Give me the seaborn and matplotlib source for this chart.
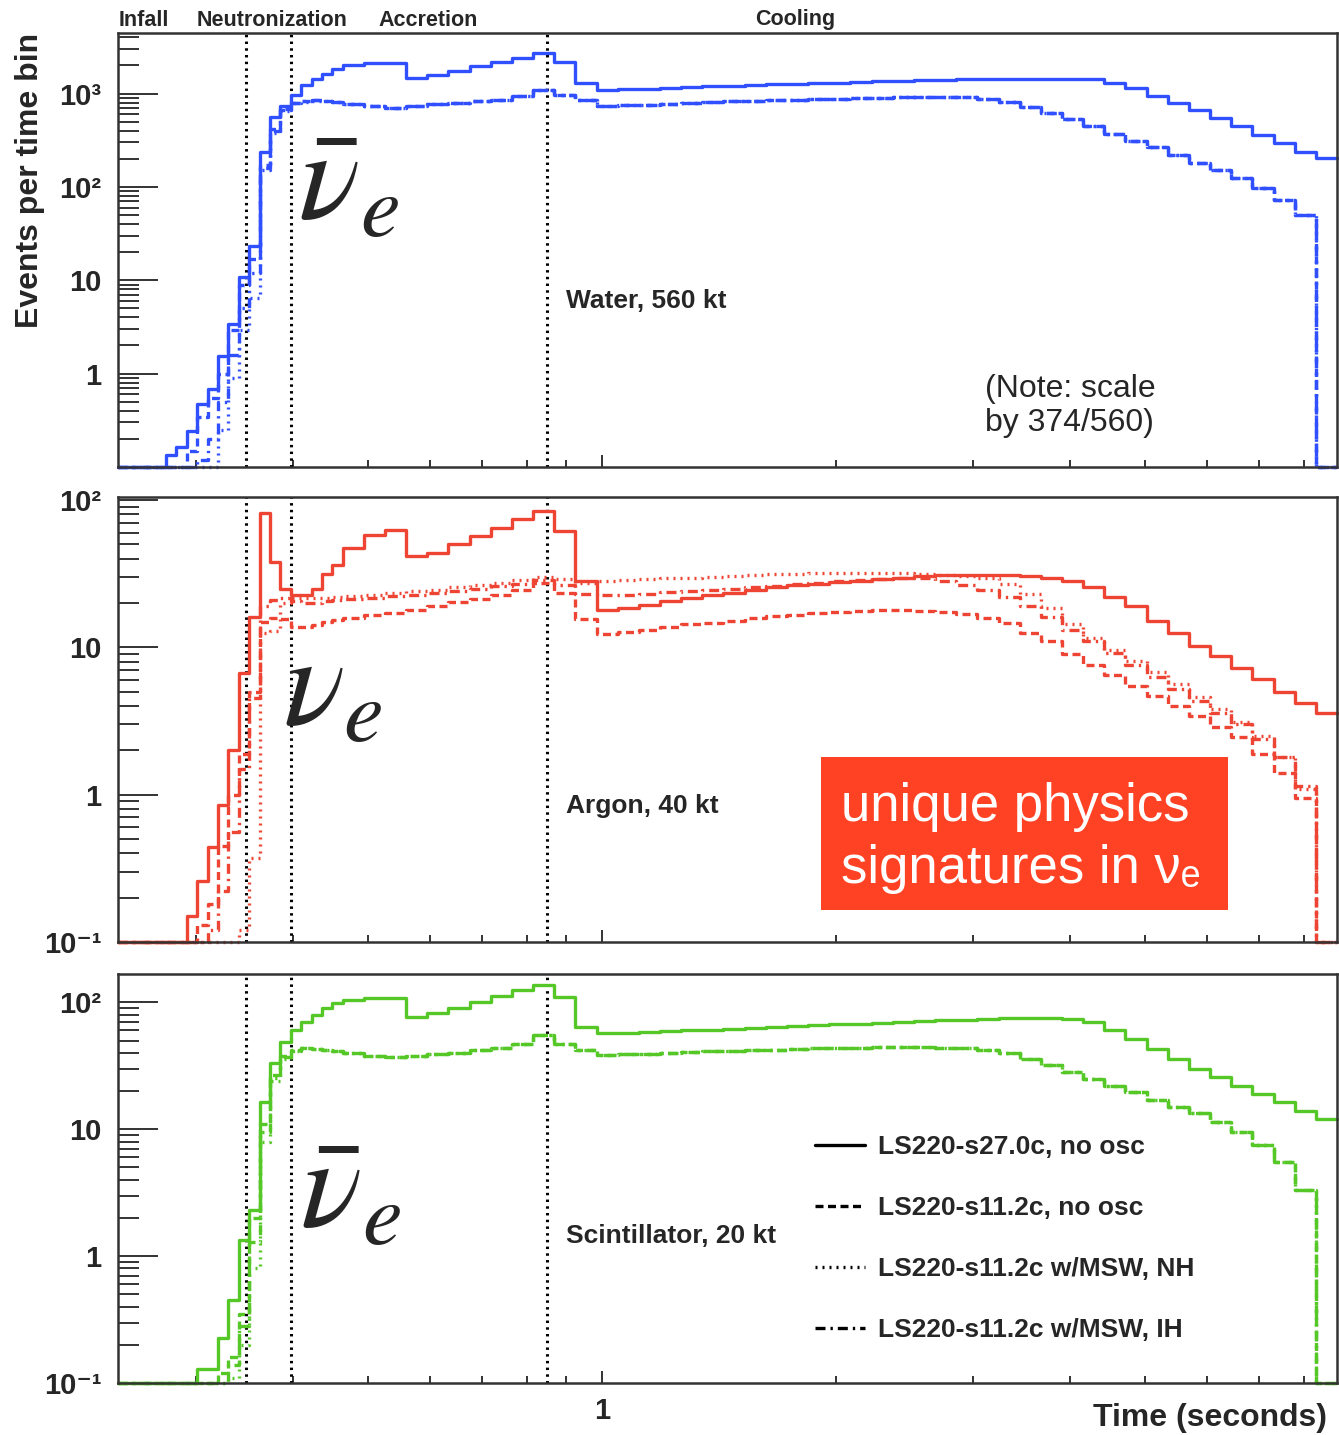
import numpy as np
import pandas as pd
import matplotlib
matplotlib.use("Agg")
import matplotlib.pyplot as plt
from matplotlib.lines import Line2D
from matplotlib.patches import Rectangle
from matplotlib.ticker import FixedLocator, FixedFormatter, LogLocator, NullFormatter
import seaborn as sns

sns.set_style("ticks")
plt.rcParams["font.family"] = ["Liberation Sans", "DejaVu Sans"]
plt.rcParams["font.weight"] = "bold"
# math symbols in a plain (not bold) serif italic
plt.rcParams["mathtext.fontset"] = "custom"
plt.rcParams["mathtext.rm"] = "STIXGeneral:weight=normal"
plt.rcParams["mathtext.it"] = "STIXGeneral:italic:weight=normal"
plt.rcParams["mathtext.bf"] = "STIXGeneral:weight=bold"

# time bins (seconds), log binning: fine during the rise, coarser afterwards
t_start = 0.2383
t_fine = np.logspace(np.log10(0.2748), np.log10(0.4638), 18)
t_coarse = np.logspace(np.log10(0.4638), np.log10(8.83), 48)[1:]
edges = np.concatenate([[t_start], t_fine, t_coarse])

phase_edges = [0.3481, 0.3978, 0.8496]
phase_names = ["Infall", "Neutronization", "Accretion", "Cooling"]

models = ["s27", "s11", "nh", "ih"]
model_labels = ["LS220-s27.0c, no osc", "LS220-s11.2c, no osc",
                "LS220-s11.2c w/MSW, NH", "LS220-s11.2c w/MSW, IH"]

# ---- Water, 560 kt (events per bin)
water_s27 = [0, 0.133, 0.163, 0.245, 0.47, 0.68, 1.55, 3.4, 10.7, 23, 239, 564, 740, 962,
             1230, 1445, 1635, 1848, 2008, 2137, 2137, 1480, 1580, 1760, 1960, 2180, 2430,
             2700, 2200, 1300, 1100, 1110, 1130, 1150, 1170, 1190, 1210, 1230, 1250, 1270,
             1290, 1310, 1330, 1350, 1370, 1390, 1400, 1420, 1430, 1440, 1445, 1445, 1440,
             1420, 1300, 1150, 950, 790, 660, 545, 445, 360, 293, 238, 205]
water_s11_rise = [0, 0, 0, 0.15, 0.34, 0.55, 1.0, 2.9, 9, 17, 173, 420, 690, 800, 830, 850, 840, 820]
water_nh_rise = [0, 0, 0, 0, 0, 0.1, 0.25, 0.9, 2.9, 6.5, 150, 380, 650, 790, 820, 840, 840, 820]
water_ih_rise = [0, 0, 0, 0, 0.12, 0.2, 0.5, 1.6, 5, 12, 160, 400, 670, 800, 830, 850, 840, 820]
water_s11_tail = [780, 740, 700, 730, 780, 800, 830, 860, 930, 1080, 970, 850, 740, 750, 760,
                  780, 800, 820, 830, 840, 850, 860, 870, 880, 890, 900, 910, 920, 920, 910,
                  880, 810, 710, 620, 540, 450, 370, 310, 270, 220, 180, 150, 125, 98, 73, 50, 0]

# ---- Argon, 40 kt
argon_s27 = [0, 0, 0, 0.15, 0.26, 0.44, 0.85, 2.0, 6.7, 16, 82, 38, 25, 22.5, 22.5, 25, 31.5,
             36, 47, 58, 63, 42, 44, 50, 57, 65, 74, 84, 62, 28, 18, 18.6, 19.3, 20.5, 21.8,
             22.8, 23.5, 24.5, 25.5, 26.3, 27, 27.6, 28.3, 29, 29.8, 30.5, 30.8, 31, 31, 30.8,
             30.5, 29.7, 28, 25.8, 22, 19, 15.2, 12.5, 10.2, 8.7, 7.2, 6.1, 5, 4.2, 3.6]
argon_s11 = [0, 0, 0, 0, 0.13, 0.18, 0.45, 1.0, 1.9, 5, 14.8, 15.8, 15.5, 13.7, 13.7, 14.2,
             14.8, 15.3, 15.8, 16.5, 17.2, 18, 19, 20.2, 21.3, 22.5, 24.5, 27.5, 23.5, 15.5,
             12.4, 12.8, 13.2, 13.7, 14.3, 14.7, 15.2, 15.7, 16.3, 16.7, 17.1, 17.4, 17.7,
             17.8, 17.8, 17.6, 17.3, 16.9, 15.9, 14.6, 12.5, 11.1, 9.0, 7.6, 6.5, 5.5, 4.7,
             4.0, 3.4, 2.9, 2.45, 1.9, 1.4, 0.95, 0]
argon_nh = [0, 0, 0, 0, 0, 0, 0, 0, 0.12, 0.37, 12.6, 13, 20, 21.5, 21.5, 21.5, 21.8, 22, 22.3,
            22.8, 23.5, 24, 24.5, 25.5, 26.5, 27.5, 28.5, 30, 29, 27.5, 28, 28.5, 29, 29.5,
            29.8, 30.2, 30.5, 31, 31.3, 31.6, 31.8, 32, 32, 32, 31.8, 31.5, 31, 30.5, 29.5,
            27, 23, 18.5, 14.5, 11.5, 9.6, 8.1, 6.8, 5.6, 4.6, 3.8, 3.1, 2.5, 1.8, 1.1, 0]
argon_ih = [0, 0, 0, 0, 0, 0.12, 0.22, 0.56, 1.5, 4.5, 19, 21, 21.5, 20.5, 20, 20, 20.5, 21,
            21.3, 21.8, 22.3, 22.8, 23.3, 24, 25, 26, 27, 28.5, 26.5, 23, 22.5, 22.8, 23.2,
            23.6, 24, 24.5, 25, 25.6, 26.2, 26.8, 27.4, 28, 28.6, 29.2, 29.8, 29.5, 28, 26.5,
            24.5, 22, 19, 16, 13.2, 11, 9.2, 7.6, 6.3, 5.2, 4.3, 3.6, 3.0, 2.4, 1.8, 1.15, 0]

# ---- Scintillator, 20 kt
scint_s27 = [0, 0, 0, 0, 0.13, 0.13, 0.226, 0.45, 1.34, 2.3, 16.5, 33, 49, 60.5, 70, 79, 90,
             98, 104, 109, 109, 76, 82, 91, 101, 112, 124, 137, 110, 64, 57, 57.5, 58, 59, 60,
             61, 62, 63, 64, 65, 66, 67, 68, 69, 70, 71, 72, 73, 74, 75, 75, 75, 74.5, 70, 60,
             51, 43, 36, 30, 26, 22, 19, 16.5, 14, 12]
scint_s11_rise = [0, 0, 0, 0, 0, 0, 0.12, 0.16, 0.35, 2.0, 11, 27, 38, 42, 44, 43, 42, 41]
scint_nh_rise = [0, 0, 0, 0, 0, 0, 0, 0.11, 0.2, 0.8, 8, 24, 36, 41, 44, 43, 42, 41]
scint_ih_rise = [0, 0, 0, 0, 0, 0, 0.1, 0.14, 0.28, 1.3, 9.5, 25.5, 37, 41.5, 44, 43, 42, 41]
scint_s11_tail = [40, 38, 37, 38, 39, 40, 42, 44, 47, 55, 47, 42, 38.5, 39, 39.5, 40, 40.5, 41,
                  41.5, 42, 42.5, 43, 43.5, 44, 44, 44.5, 44.5, 44.5, 44, 43.5, 42, 40, 36, 32,
                  28.5, 25, 22, 19.5, 17, 15, 13.5, 11.5, 9.5, 7.5, 5.5, 3.3, 0]

water = [water_s27, water_s11_rise + water_s11_tail, water_nh_rise + water_s11_tail,
         water_ih_rise + water_s11_tail]
argon = [argon_s27, argon_s11, argon_nh, argon_ih]
scint = [scint_s27, scint_s11_rise + scint_s11_tail, scint_nh_rise + scint_s11_tail,
         scint_ih_rise + scint_s11_tail]

dash_map = {"s27": "", "s11": (2.4, 1.35), "nh": (0.6, 1.5), "ih": (3.0, 1.5, 0.7, 1.5)}
LW = 2.4
spine_col = "#333333"


def draw_panel(ax, series, color, ylim, yticks, yticklabels):
    ax.set_xscale("log")
    ax.set_yscale("log")
    rows = []
    for m, vals in zip(models, series):
        y = np.maximum(np.append(vals, vals[-1]), ylim[0])
        rows.append(pd.DataFrame({"t": edges, "n": y, "model": m}))
    df = pd.concat(rows, ignore_index=True)
    sns.lineplot(data=df, x="t", y="n", style="model", dashes=dash_map, color=color,
                 linewidth=LW, drawstyle="steps-post", estimator=None, sort=False,
                 legend=False, ax=ax, clip_on=False)
    for t in phase_edges:
        ax.axvline(t, color="black", linestyle=(0, (0.8, 1.4)), linewidth=2.2, zorder=1)
    ax.set_xlim(edges[0], edges[-1])
    ax.set_ylim(*ylim)
    ax.set_xlabel("")
    ax.set_ylabel("")
    ax.yaxis.set_major_locator(FixedLocator(yticks))
    ax.yaxis.set_major_formatter(FixedFormatter(yticklabels))
    ax.yaxis.set_minor_locator(LogLocator(base=10, subs=np.arange(2, 10)))
    ax.yaxis.set_minor_formatter(NullFormatter())
    ax.xaxis.set_major_locator(FixedLocator([1]))
    ax.xaxis.set_major_formatter(FixedFormatter(["1"]))
    ax.xaxis.set_minor_locator(FixedLocator([0.3, 0.4, 0.5, 0.6, 0.7, 0.8, 0.9,
                                             2, 3, 4, 5, 6, 7, 8]))
    ax.xaxis.set_minor_formatter(NullFormatter())
    ax.tick_params(axis="y", which="major", direction="in", length=29, width=1.4,
                   color=spine_col, labelsize=21, pad=12)
    ax.tick_params(axis="y", which="minor", direction="in", length=15, width=1.4,
                   color=spine_col)
    ax.tick_params(axis="x", which="major", direction="in", length=9, width=1.4,
                   color=spine_col, labelsize=21, pad=10)
    ax.tick_params(axis="x", which="minor", direction="in", length=5, width=1.4,
                   color=spine_col)
    for s in ax.spines.values():
        s.set_linewidth(1.8)
        s.set_color(spine_col)
        s.set_visible(True)


fig = plt.figure(figsize=(13.39, 14.35), dpi=100)
ax1 = fig.add_axes([0.0881, 0.6746, 0.9104, 0.3024])
ax2 = fig.add_axes([0.0881, 0.3436, 0.9104, 0.3101])
ax3 = fig.add_axes([0.0881, 0.0362, 0.9104, 0.2850])

draw_panel(ax1, water, "#3050FF", (0.1, 4450), [1, 10, 100, 1000], ["1", "10", "10²", "10³"])
draw_panel(ax2, argon, "#EE4433", (0.1, 105), [0.1, 1, 10, 100], ["10⁻¹", "1", "10", "10²"])
draw_panel(ax3, scint, "#55C828", (0.1, 167), [0.1, 1, 10, 100], ["10⁻¹", "1", "10", "10²"])
ax1.tick_params(axis="x", labelbottom=False)
ax2.tick_params(axis="x", labelbottom=False)

# panel annotations
ax1.text(0.3675, 0.3825, "Water, 560 kt", transform=ax1.transAxes, fontsize=19, va="center")
ax2.text(0.3675, 0.3056, "Argon, 40 kt", transform=ax2.transAxes, fontsize=19, va="center")
ax3.text(0.3675, 0.3594, "Scintillator, 20 kt", transform=ax3.transAxes, fontsize=19, va="center")
ax1.text(0.7112, 0.1406, "(Note: scale\nby 374/560)", transform=ax1.transAxes, fontsize=23,
         fontweight="normal", va="center", linespacing=1.2)

ax1.text(0.1477, 0.569, r"$\bar{\nu}_e$", transform=ax1.transAxes, fontsize=92,
         fontweight="normal", va="baseline")
ax2.text(0.1354, 0.4876, r"$\nu_e$", transform=ax2.transAxes, fontsize=92,
         fontweight="normal", va="baseline")
ax3.text(0.1493, 0.379, r"$\bar{\nu}_e$", transform=ax3.transAxes, fontsize=92,
         fontweight="normal", va="baseline")

ax2.add_patch(Rectangle((0.5767, 0.0719), 0.3339, 0.3438, transform=ax2.transAxes,
                        facecolor="#FF4124", edgecolor="none", zorder=5))
ax2.text(0.5931, 0.234, "unique physics\nsignatures in νₑ", transform=ax2.transAxes,
         fontsize=38, fontweight="normal", color="white", va="center", zorder=6,
         linespacing=1.3)

handles = [Line2D([], [], color="black", linewidth=LW, linestyle="-")]
for m in models[1:]:
    handles.append(Line2D([], [], color="black", linewidth=LW, dashes=dash_map[m]))
ax3.legend(handles, model_labels, loc="upper left", bbox_to_anchor=(0.5718, 0.6064),
           frameon=False, fontsize=19, handlelength=1.9, handletextpad=0.5,
           labelspacing=1.40, borderaxespad=0, borderpad=0)

# phase names above the top panel
for name, xpx in zip(phase_names, [144, 272, 428, 795]):
    fig.text(xpx / 1339, 1 - 20 / 1435, name, ha="center", va="center", fontsize=15.5)

fig.text(30 / 1339, 1 - 180 / 1435, "Events per time bin", rotation=90, ha="center",
         va="center", fontsize=23)
fig.text(1327 / 1339, 1 - 1418 / 1435, "Time (seconds)", ha="right", va="center", fontsize=23)

fig.savefig("out.png", dpi=100)
